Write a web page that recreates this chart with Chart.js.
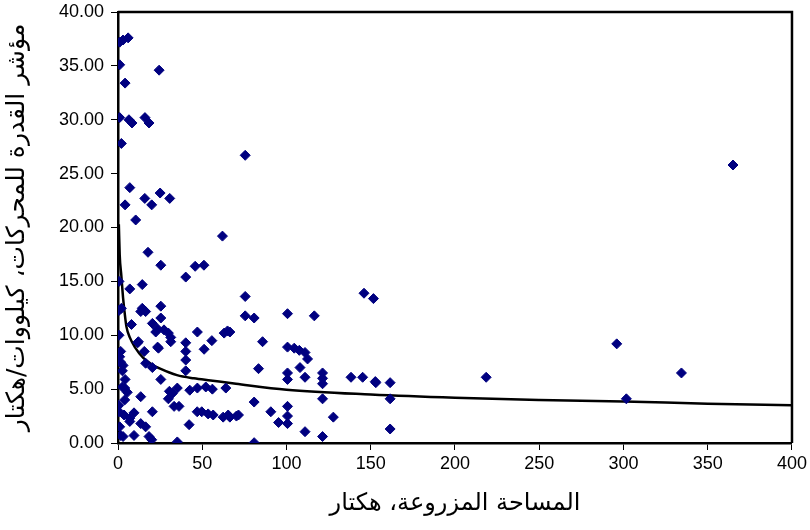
<!DOCTYPE html>
<html>
<head>
<meta charset="utf-8">
<script src="https://cdn.jsdelivr.net/npm/chart.js@4/dist/chart.umd.min.js"></script>
<style>
html,body{margin:0;padding:0;background:#fff;}
#wrap{width:810px;height:530px;}
</style>
</head>
<body>
<div id="wrap"><canvas id="c" width="810" height="530"></canvas></div>
<script>
// Scatter data: cultivated area (ha) and tractor power index (kW/ha)
const areaHa = [1,3,6,1,24.4,4.2,16,1,6.5,8.3,18.4,2,
7,4.2,15.9,20,25,30.7,10.5,62,17.8,25.4,45.8,51,40.2,0.6,14.4,7,
75.5,365,
146,151.6,153,161.5,161.5,161.5,218.5,296,301.7,334.4,
75.5,75.5,80.8,100.6,116.5,66.4,85.8,100.6,104.6,107.6,111,112.5,108,83.4,100.6,100.6,111,121.4,121.4,121.4,138.3,145.2,152.7,121.4,80.8,100.6,100.6,100.6,90.7,95.3,71.5,66.4,127.8,111,121.4,80.8,
0.6,14.4,16.4,13.5,25.4,25.4,20.4,23.4,27.3,29.9,31.3,22.4,47.1,63,65,0.6,12.1,31.3,55.7,40.2,24,51.1,40.2,1.6,40.2,16.4,1.6,2.6,20.4,40.2,4.2,25.4,42.6,35.2,47.1,32.3,52.1,56,64,2.6,5.5,13.5,29.9,33.3,20.4,36.2,0.6,3.6,7,9.5,13.5,16.4,42.2,1.6,9.5,18.4,20,35.2,49.7,53.5,56.5,62.4,65.4,70.3,47,
8,11.7,15.6,1,3,4,7,3,4,23.5,30.5,1,0.5,2];
const powerIdx = [37.2,37.4,37.6,35.1,34.6,33.4,30.2,30.2,30,29.7,29.7,27.8,
23.7,22.1,22.7,22.1,23.2,22.7,20.7,19.2,17.7,16.5,16.4,16.5,15.4,15,14.7,14.3,
26.7,25.8,
13.9,13.4,5.6,5.6,4.1,1.3,6.1,9.2,4.1,6.5,
13.6,11.8,11.6,12,11.8,10.3,9.4,8.9,8.8,8.6,8.4,7.8,7.0,6.9,6.5,5.9,6.1,6.5,6.0,5.5,6.1,6.1,5.7,4.1,3.8,3.4,2.5,1.8,2.9,1.9,2.6,2.4,2.4,1.05,0.6,0.03,
12.3,12.5,12.2,12.2,12.7,11.6,11.1,10.6,10.5,10.2,9.8,10.3,10.3,10.2,10.4,10,9.4,9.4,9.5,9.3,8.8,8.7,8.5,8.5,7.7,7.4,7.5,6.7,7.0,6.7,5.9,5.9,4.9,5.1,5.1,4.6,5.2,5.0,5.1,5.2,4.7,4.3,4.1,3.4,2.9,3.4,2.9,2.6,2.3,2.8,1.8,1.5,1.7,0.7,0.7,0.6,0.3,0.1,2.9,2.7,2.6,2.4,2.6,2.5,2.9,
11,9.3,8.5,8.0,7.2,4,2.0,0.6,5.1,8.9,4.8,1.5,3.5,12.5];

// Trend line
const trendX = [0.5,1,2,3,4,5,7,10,15,20,25,35,45,55,70,100,150,200,250,300,350,400];
const trendY = [20.3,17.5,15.5,13.5,12,10.8,9.8,8.9,7.9,7.3,6.9,6.3,6.0,5.8,5.5,4.95,4.5,4.2,4.0,3.85,3.65,3.5];

const xTicks = [0,50,100,150,200,250,300,350,400];
const yTickLabels = ['0.00','5.00','10.00','15.00','20.00','25.00','30.00','35.00','40.00'];
const xTitle = 'المساحة المزروعة، هكتار';
const yTitle = 'مؤشر القدرة للمحركات، كيلووات/هكتار';

const scatterPts = areaHa.map((x,i)=>({x:x, y:powerIdx[i]}));
const trendPts = trendX.map((x,i)=>({x:x, y:trendY[i]}));

const frame = {
  id:'frame',
  beforeDatasetsDraw(chart){
    const {ctx, chartArea:a} = chart;
    ctx.save();
    ctx.strokeStyle='#000';
    ctx.lineWidth=2.5;
    ctx.beginPath();
    ctx.moveTo(a.left, a.top);
    ctx.lineTo(a.right, a.top);
    ctx.lineTo(a.right, a.bottom);
    ctx.stroke();
    ctx.restore();
  }
};

new Chart(document.getElementById('c'), {
  type:'scatter',
  data:{
    datasets:[
      {
        type:'line',
        data:trendPts,
        borderColor:'#000',
        borderWidth:2.5,
        pointRadius:0,
        fill:false,
        cubicInterpolationMode:'monotone',
        order:2
      },
      {
        data:scatterPts,
        pointStyle:'rectRot',
        pointRadius:5,
        pointHoverRadius:5,
        backgroundColor:'#000080',
        borderColor:'#000080',
        borderWidth:1,
        order:1
      }
    ]
  },
  plugins:[frame],
  options:{
    responsive:false,
    animation:false,
    events:[],
    layout:{padding:{top:12,right:17,left:0,bottom:0}},
    plugins:{legend:{display:false}, tooltip:{enabled:false}},
    scales:{
      x:{
        type:'linear', min:0, max:400,
        afterBuildTicks(s){ s.ticks = xTicks.map(v=>({value:v})); },
        afterFit(s){ s.height = 87; },
        ticks:{color:'#000', font:{family:'Liberation Sans', size:18}, padding:3, maxRotation:0,
          callback:(v)=>String(v)},
        grid:{display:true, drawOnChartArea:false, drawTicks:true, tickLength:7, color:'#000', lineWidth:1},
        border:{display:true, color:'#000', width:2.5},
        title:{display:true, text:xTitle, color:'#000', font:{family:'DejaVu Sans', size:24}, padding:{top:8,bottom:12}}
      },
      y:{
        type:'linear', min:0, max:40,
        afterBuildTicks(s){ s.ticks = yTickLabels.map((t,i)=>({value:i*5})); },
        afterFit(s){ s.width = 118; s.paddingTop = 0; s.paddingBottom = 0; },
        ticks:{color:'#000', font:{family:'Liberation Sans', size:18}, padding:7,
          callback:(v,i)=>yTickLabels[i]},
        grid:{display:true, drawOnChartArea:false, drawTicks:true, tickLength:7, color:'#000', lineWidth:1},
        border:{display:true, color:'#000', width:2.5},
        title:{display:true, text:yTitle, color:'#000', font:{family:'DejaVu Sans', size:25}, padding:{top:2,bottom:4}}
      }
    }
  }
});
</script>
</body>
</html>
